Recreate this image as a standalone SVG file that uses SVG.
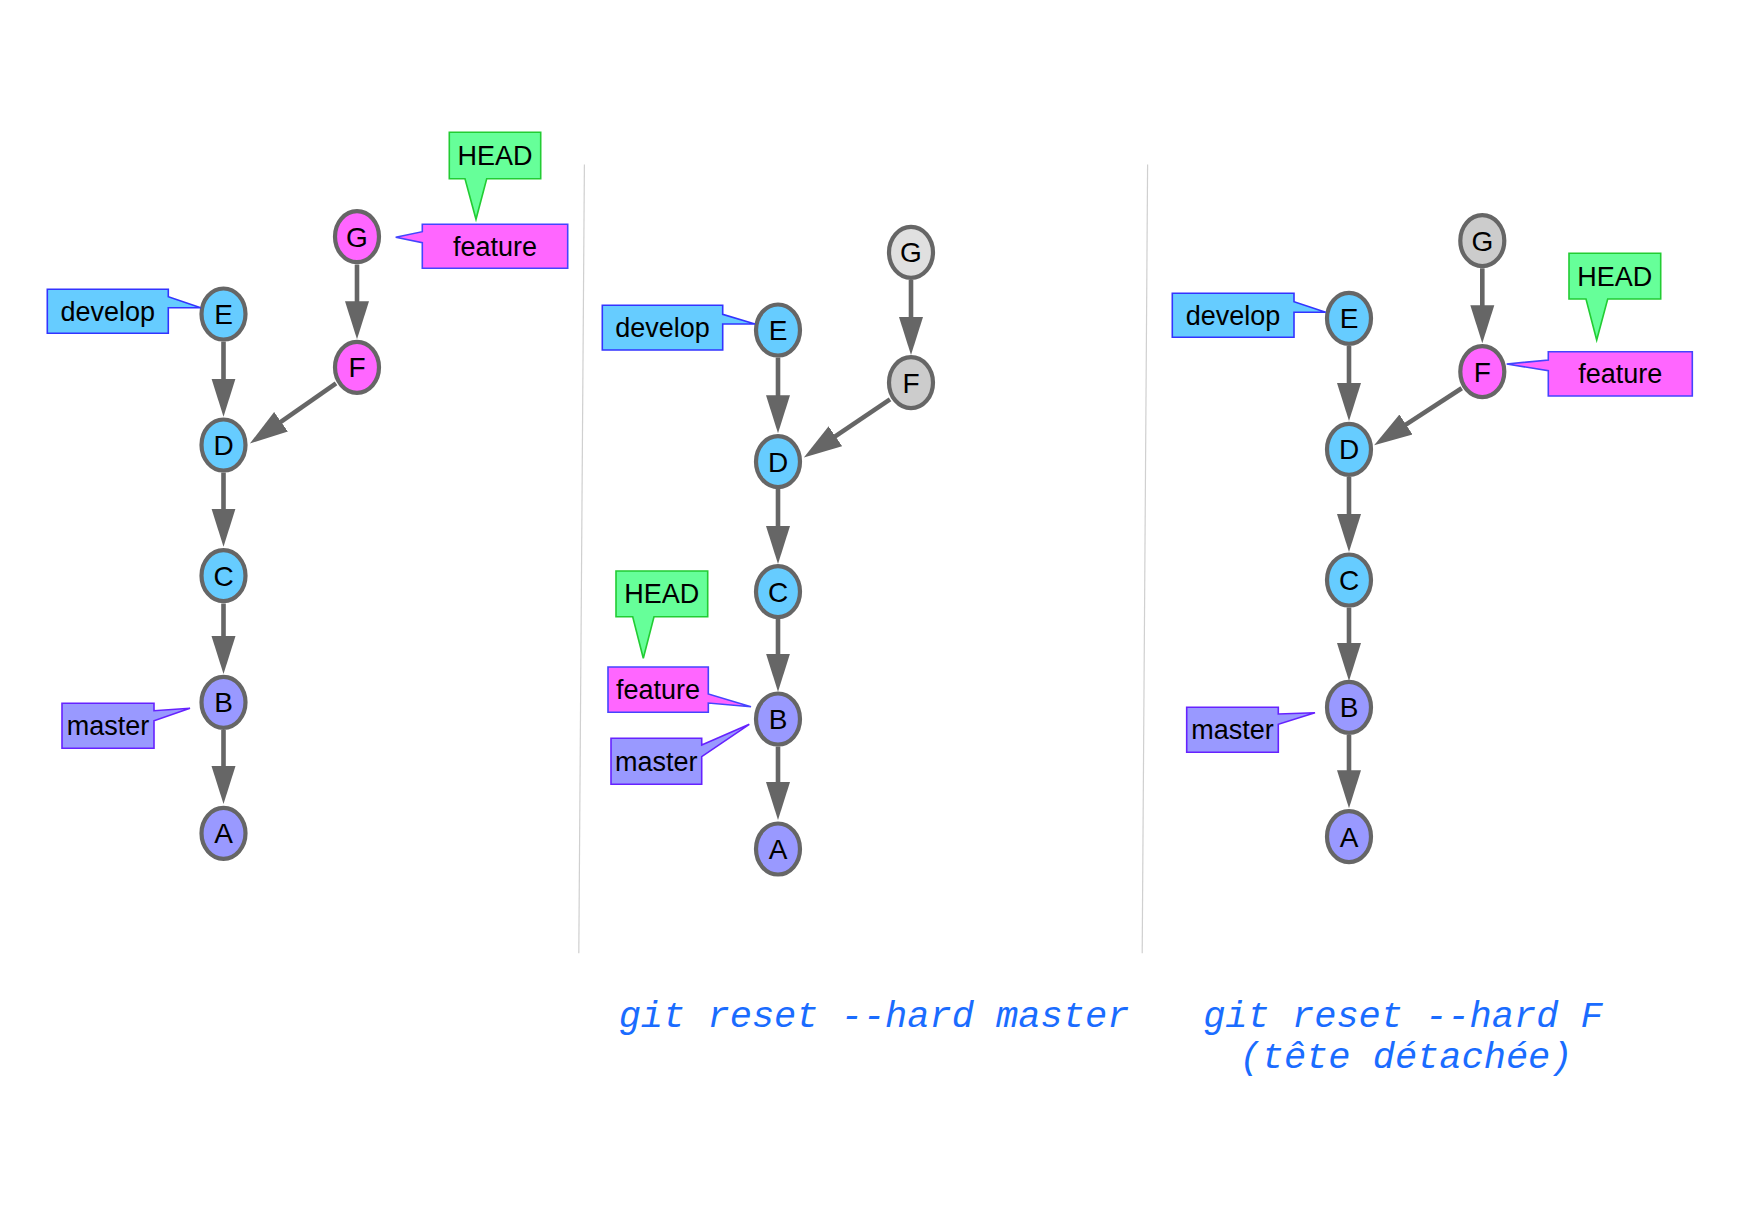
<svg xmlns="http://www.w3.org/2000/svg" width="1742" height="1232" viewBox="0 0 1742 1232">
<style>
.n ellipse{stroke:#666;stroke-width:4.2}
.n text{font-family:"Liberation Sans",Arial,sans-serif;font-size:28px;text-anchor:middle;fill:#000}
.lbl path{stroke-width:1.6}
.lbl text{font-family:"Liberation Sans",Arial,sans-serif;font-size:27px;text-anchor:middle;fill:#000}
.blue{fill:#66ccff}.purple{fill:#9999ff}.mag{fill:#ff66ff}.g1{fill:#cccccc}.g2{fill:#e0e0e0}
.dev path{fill:#66ccff;stroke:#3333ff}
.fea path{fill:#ff66ff;stroke:#4444ff}
.mas path{fill:#9999ff;stroke:#6622ff}
.hd path{fill:#66ff99;stroke:#22cc33}
.e line{stroke:#666;stroke-width:4.6;marker-end:url(#ah)}
.div{stroke:#d0d0d0;stroke-width:1.2}
.cap{font-family:"Liberation Mono","Courier New",monospace;font-style:italic;font-size:37px;fill:#1a6cff;text-anchor:middle}
</style>
<defs>
<marker id="ah" markerUnits="userSpaceOnUse" markerWidth="40" markerHeight="26" viewBox="0 0 40 26" refX="2" refY="13" orient="auto">
<path d="M0,1 L38,13 L0,25 Z" fill="#666"/>
</marker>
</defs>
<rect width="1742" height="1232" fill="#fff"/>
<line class="div" x1="584.4" y1="164.4" x2="578.8" y2="953.3"/>
<line class="div" x1="1147.6" y1="164.4" x2="1142.2" y2="953.3"/>

<g id="connectors" class="e">
<!-- panel 1 -->
<line x1="223.5" y1="341.5" x2="223.5" y2="380.7"/>
<line x1="223.5" y1="472.5" x2="223.5" y2="510.7"/>
<line x1="223.5" y1="603.5" x2="223.5" y2="638"/>
<line x1="223.5" y1="730" x2="223.5" y2="768"/>
<line x1="357" y1="264.5" x2="357" y2="303.3"/>
<line x1="336" y1="383.3" x2="279.4" y2="422.9"/>
<!-- panel 2 -->
<line x1="778" y1="357.5" x2="778" y2="397.3"/>
<line x1="778" y1="489" x2="778" y2="528"/>
<line x1="778" y1="619" x2="778" y2="655.7"/>
<line x1="778" y1="746.5" x2="778" y2="784"/>
<line x1="911" y1="280" x2="911" y2="319"/>
<line x1="890" y1="399.3" x2="833.7" y2="437.4"/>
<!-- panel 3 -->
<line x1="1349" y1="346" x2="1349" y2="385"/>
<line x1="1349" y1="477" x2="1349" y2="516"/>
<line x1="1349" y1="607.5" x2="1349" y2="645"/>
<line x1="1349" y1="735" x2="1349" y2="772.3"/>
<line x1="1482.3" y1="268.3" x2="1482.3" y2="307.3"/>
<line x1="1461.7" y1="388.3" x2="1404.3" y2="425.6"/>
</g>

<!-- panel 1 nodes -->
<g id="p1-G" class="n"><ellipse class="mag" cx="357" cy="236.7" rx="22" ry="25.5"/><text x="357" y="246.7">G</text></g>
<g id="p1-F" class="n"><ellipse class="mag" cx="357" cy="367.3" rx="22" ry="25.5"/><text x="357" y="377.3">F</text></g>
<g id="p1-E" class="n"><ellipse class="blue" cx="223.5" cy="314" rx="22" ry="25.5"/><text x="223.5" y="324">E</text></g>
<g id="p1-D" class="n"><ellipse class="blue" cx="223.5" cy="445" rx="22" ry="25.5"/><text x="223.5" y="455">D</text></g>
<g id="p1-C" class="n"><ellipse class="blue" cx="223.5" cy="575.7" rx="22" ry="25.5"/><text x="223.5" y="585.7">C</text></g>
<g id="p1-B" class="n"><ellipse class="purple" cx="223.5" cy="702.3" rx="22" ry="25.5"/><text x="223.5" y="712.3">B</text></g>
<g id="p1-A" class="n"><ellipse class="purple" cx="223.5" cy="833.3" rx="22" ry="25.5"/><text x="223.5" y="843.3">A</text></g>
<g id="p1-develop" class="lbl dev"><path d="M47.3,289.3 H168.3 V296.7 L200.7,307.7 H168.3 V333.3 H47.3 Z"/><text x="107.8" y="320.8">develop</text></g>
<g id="p1-feature" class="lbl fea"><path d="M422.3,224.3 H567.7 V268.3 H422.3 V242.7 L395.7,237.3 L422.3,231.7 Z"/><text x="495" y="255.8">feature</text></g>
<g id="p1-HEAD" class="lbl hd"><path d="M449.3,132.3 H540.7 V178.7 H486.7 L476,219.3 L465,178.7 H449.3 Z"/><text x="495" y="165">HEAD</text></g>
<g id="p1-master" class="lbl mas"><path d="M62,703.3 H154 V710.7 L190,708.3 L154,720.7 V748.3 H62 Z"/><text x="108" y="735.3">master</text></g>

<!-- panel 2 nodes -->
<g id="p2-G" class="n"><ellipse class="g2" cx="911" cy="252.3" rx="22" ry="25.5"/><text x="911" y="262.3">G</text></g>
<g id="p2-F" class="n"><ellipse class="g1" cx="911" cy="382.7" rx="22" ry="25.5"/><text x="911" y="392.7">F</text></g>
<g id="p2-E" class="n"><ellipse class="blue" cx="778" cy="330" rx="22" ry="25.5"/><text x="778" y="340">E</text></g>
<g id="p2-D" class="n"><ellipse class="blue" cx="778" cy="461.7" rx="22" ry="25.5"/><text x="778" y="471.7">D</text></g>
<g id="p2-C" class="n"><ellipse class="blue" cx="778" cy="591.7" rx="22" ry="25.5"/><text x="778" y="601.7">C</text></g>
<g id="p2-B" class="n"><ellipse class="purple" cx="778" cy="719" rx="22" ry="25.5"/><text x="778" y="729">B</text></g>
<g id="p2-A" class="n"><ellipse class="purple" cx="778" cy="849" rx="22" ry="25.5"/><text x="778" y="859">A</text></g>
<g id="p2-develop" class="lbl dev"><path d="M602.3,305.3 H722.7 V314.3 L755,324 H722.7 V350 H602.3 Z"/><text x="662.5" y="337.2">develop</text></g>
<g id="p2-HEAD" class="lbl hd"><path d="M616,571 H707.7 V616.7 H654 L643.3,658.3 L632.7,616.7 H616 Z"/><text x="661.8" y="603.3">HEAD</text></g>
<g id="p2-feature" class="lbl fea"><path d="M608,667 H708.3 V694 L751,706.7 L708.3,703 V712.3 H608 Z"/><text x="658" y="699">feature</text></g>
<g id="p2-master" class="lbl mas"><path d="M611,738.3 H701.7 V745 L749.3,724.3 L701.7,756.7 V784.3 H611 Z"/><text x="656.3" y="770.8">master</text></g>

<!-- panel 3 nodes -->
<g id="p3-G" class="n"><ellipse class="g1" cx="1482.3" cy="240.7" rx="22" ry="25.5"/><text x="1482.3" y="250.7">G</text></g>
<g id="p3-F" class="n"><ellipse class="mag" cx="1482.3" cy="371.7" rx="22" ry="25.5"/><text x="1482.3" y="381.7">F</text></g>
<g id="p3-E" class="n"><ellipse class="blue" cx="1349" cy="318.3" rx="22" ry="25.5"/><text x="1349" y="328.3">E</text></g>
<g id="p3-D" class="n"><ellipse class="blue" cx="1349" cy="449.3" rx="22" ry="25.5"/><text x="1349" y="459.3">D</text></g>
<g id="p3-C" class="n"><ellipse class="blue" cx="1349" cy="580" rx="22" ry="25.5"/><text x="1349" y="590">C</text></g>
<g id="p3-B" class="n"><ellipse class="purple" cx="1349" cy="707.3" rx="22" ry="25.5"/><text x="1349" y="717.3">B</text></g>
<g id="p3-A" class="n"><ellipse class="purple" cx="1349" cy="836.7" rx="22" ry="25.5"/><text x="1349" y="846.7">A</text></g>
<g id="p3-develop" class="lbl dev"><path d="M1172.3,293.3 H1294 V301.7 L1325.7,312.3 H1294 V337.3 H1172.3 Z"/><text x="1233" y="324.8">develop</text></g>
<g id="p3-master" class="lbl mas"><path d="M1186.7,707.3 H1278.3 V714 L1315,712.7 L1278.3,724.3 V752.3 H1186.7 Z"/><text x="1232.5" y="739.3">master</text></g>
<g id="p3-HEAD" class="lbl hd"><path d="M1569,253.3 H1660.7 V299 H1607.7 L1596.7,340 L1586,299 H1569 Z"/><text x="1614.8" y="285.7">HEAD</text></g>
<g id="p3-feature" class="lbl fea"><path d="M1548.3,351.7 H1692.3 V396 H1548.3 V370.7 L1506.7,364 L1548.3,360 Z"/><text x="1620.3" y="383.3">feature</text></g>

<g id="captions">
<text class="cap" x="874" y="1026.7">git reset --hard master</text>
<text class="cap" x="1403" y="1026.7">git reset --hard F</text>
<text class="cap" x="1406" y="1067.5">(tête détachée)</text>
</g>
</svg>
